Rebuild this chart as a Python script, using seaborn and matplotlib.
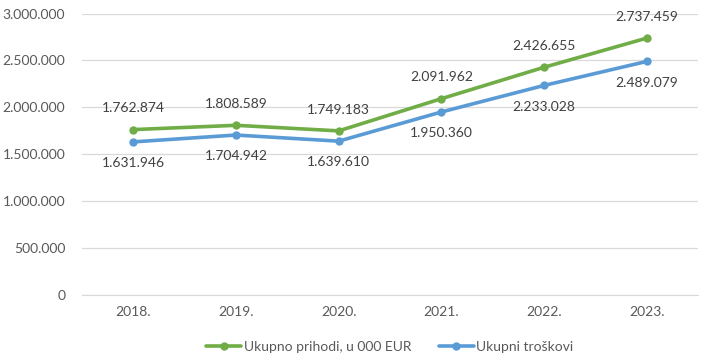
import pandas as pd
import seaborn as sns
import matplotlib.pyplot as plt
from matplotlib.ticker import FuncFormatter

# podaci
godine = ['2018.', '2019.', '2020.', '2021.', '2022.', '2023.']
prihodi = [1762874, 1808589, 1749183, 2091962, 2426655, 2737459]
troskovi = [1631946, 1704942, 1639610, 1950360, 2233028, 2489079]
naziv_prihodi = 'Ukupno prihodi, u 000 EUR'
naziv_troskovi = 'Ukupni troškovi'

df = pd.DataFrame({
    'godina': godine * 2,
    'iznos': prihodi + troskovi,
    'serija': [naziv_prihodi] * len(godine) + [naziv_troskovi] * len(godine),
})

sns.set_style('white')
plt.rcParams['font.family'] = ['Lato', 'DejaVu Sans']

def fmt(v):
    return f'{int(v):,}'.replace(',', '.')

fig = plt.figure(figsize=(7.05, 3.62), dpi=100)
ax = fig.add_axes([0.1163, 0.185, 0.8737, 0.7777])

boje = {naziv_prihodi: '#70AD47', naziv_troskovi: '#5B9BD5'}
sns.lineplot(data=df, x='godina', y='iznos', hue='serija', palette=boje,
             marker='o', markersize=6, markeredgewidth=0, linewidth=2.6,
             sort=False, ax=ax, legend=True)

# oznake vrijednosti
for i, v in enumerate(prihodi):
    ax.annotate(fmt(v), (i, v), xytext=(0, 11), textcoords='offset points',
                ha='center', va='bottom', fontsize=10, color='#404040')
for i, v in enumerate(troskovi):
    ax.annotate(fmt(v), (i, v), xytext=(0, -11), textcoords='offset points',
                ha='center', va='top', fontsize=10, color='#404040')

ax.set_xlim(-0.5, len(godine) - 0.5)
ax.set_ylim(0, 3000000)
ax.set_yticks(range(0, 3000001, 500000))
ax.yaxis.set_major_formatter(FuncFormatter(lambda v, p: fmt(v)))
ax.grid(axis='y', color='#D9D9D9', linewidth=0.9)
ax.set_axisbelow(True)
for s in ax.spines.values():
    s.set_visible(False)
ax.spines['bottom'].set_visible(True)
ax.spines['bottom'].set_color('#D9D9D9')
ax.tick_params(axis='both', length=0, labelsize=10, labelcolor='#595959', pad=8)
ax.tick_params(axis='y', pad=12)
ax.set_xlabel('')
ax.set_ylabel('')

handles, labels = ax.get_legend_handles_labels()
leg = ax.legend(handles, labels, loc='lower center', bbox_to_anchor=(0.5, -0.25),
                ncol=2, frameon=False, fontsize=10, handlelength=2.5,
                columnspacing=2.0, handletextpad=0.2)
for t in leg.get_texts():
    t.set_color('#595959')

fig.savefig('out.png', dpi=100)
